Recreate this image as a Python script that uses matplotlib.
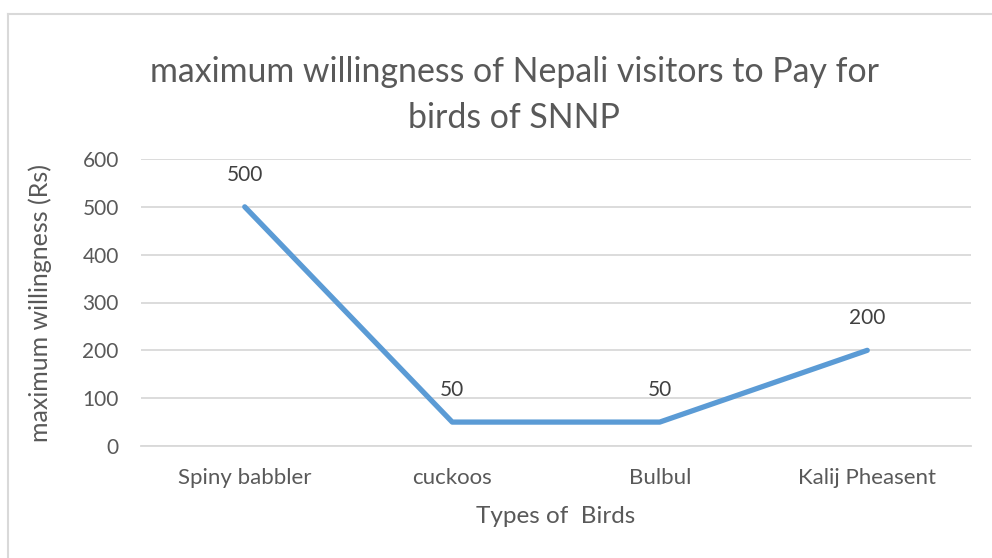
import matplotlib
matplotlib.use('Agg')
import matplotlib.pyplot as plt
from matplotlib.lines import Line2D

birds = ['Spiny babbler', 'cuckoos', 'Bulbul', 'Kalij Pheasent']
willingness = [500, 50, 50, 200]
yticks = [0, 100, 200, 300, 400, 500, 600]

plt.rcParams['font.family'] = ['Lato', 'DejaVu Sans']
text_c = '#595959'
frame_c = '#D9D9D9'

fig = plt.figure(figsize=(9.92, 5.58), dpi=100)
ax = fig.add_axes([141/992, 1-446/558, 830/992, 287/558])

# chart frame (only top and left edges are inside the image)
top = 1 - 14/558
left = 8/992
fig.add_artist(Line2D([left, 1], [top, top], transform=fig.transFigure, color=frame_c, lw=1.5))
fig.add_artist(Line2D([left, left], [0, top], transform=fig.transFigure, color=frame_c, lw=1.5))

x = list(range(len(birds)))
ax.plot(x, willingness, color='#5B9BD5', linewidth=3.8, solid_joinstyle='round',
        solid_capstyle='round', zorder=3)
for xi, v in zip(x, willingness):
    ax.annotate(str(v), (xi, v), xytext=(0, 23), textcoords='offset points',
                ha='center', va='center', fontsize=15, color='#404040')

ax.set_xlim(-0.5, 3.5)
ax.set_ylim(0, 600)
ax.set_yticks(yticks)
ax.set_xticks(x)
ax.set_xticklabels(birds)
ax.tick_params(axis='both', length=0, labelsize=15, colors=text_c)
ax.tick_params(axis='y', pad=16)
ax.tick_params(axis='x', pad=16, labelsize=16)
ax.grid(axis='y', color=frame_c, linewidth=1.3)
ax.set_axisbelow(True)
for s in ['top', 'right', 'left']:
    ax.spines[s].set_visible(False)
ax.spines['bottom'].set_color(frame_c)
ax.spines['bottom'].set_linewidth(1.3)

ax.set_xlabel('Types of  Birds', fontsize=17.5, color=text_c, labelpad=13)
ax.set_ylabel('maximum willingness (Rs)', fontsize=18, color=text_c, labelpad=22)
fig.text(514/992, 1-95/558, 'maximum willingness of Nepali visitors to Pay for\nbirds of SNNP',
         ha='center', va='center', fontsize=24.4, color=text_c, linespacing=1.52)

fig.savefig('out.png', dpi=100)
